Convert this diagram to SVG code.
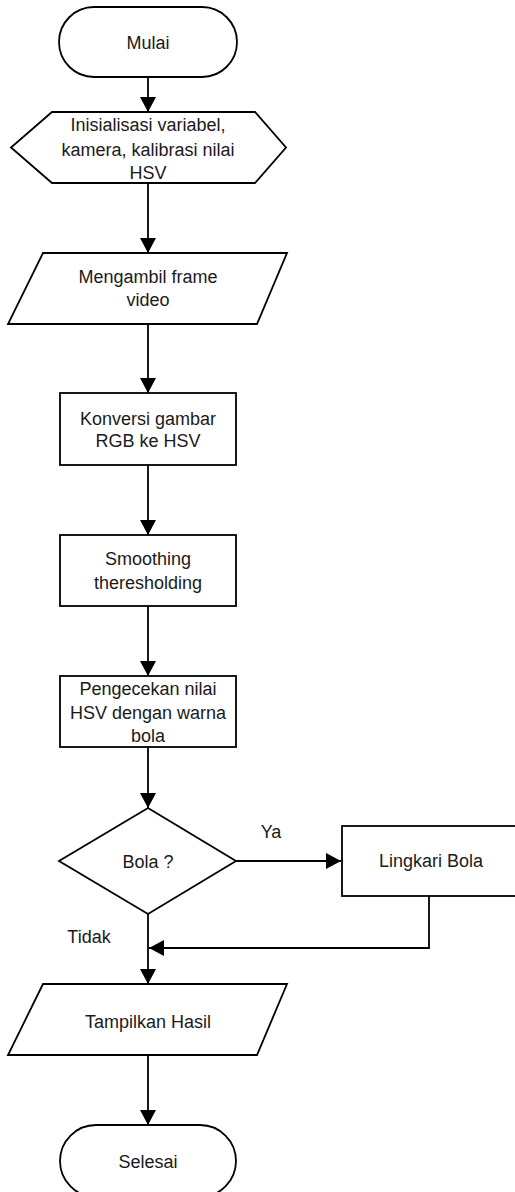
<svg xmlns="http://www.w3.org/2000/svg" width="515" height="1192" viewBox="0 0 515 1192">
<style>
.n{fill:#fff;stroke:#000;stroke-width:1.8}
.t{font-family:"Liberation Sans",Arial,sans-serif;font-size:18px;fill:#1a1a1a;text-anchor:middle;dominant-baseline:central}
.c{fill:none;stroke:#000;stroke-width:1.8}
</style>
<defs>
<marker id="ah" markerUnits="userSpaceOnUse" markerWidth="16" markerHeight="16" viewBox="0 0 16 16" refX="15" refY="8" orient="auto">
<path d="M0,0 L15,8 L0,16 Z" fill="#000"/>
</marker>
</defs>
<rect width="515" height="1192" fill="#fff"/>
<g id="connectors">
<line class="c" x1="148" y1="77" x2="148" y2="112" marker-end="url(#ah)"/>
<line class="c" x1="148" y1="183" x2="148" y2="253" marker-end="url(#ah)"/>
<line class="c" x1="148" y1="324" x2="148" y2="393" marker-end="url(#ah)"/>
<line class="c" x1="148" y1="465" x2="148" y2="535" marker-end="url(#ah)"/>
<line class="c" x1="148" y1="606" x2="148" y2="676" marker-end="url(#ah)"/>
<line class="c" x1="148" y1="747" x2="148" y2="808" marker-end="url(#ah)"/>
<line class="c" x1="236" y1="861" x2="341" y2="861" marker-end="url(#ah)"/>
<polyline class="c" points="429,896 429,948 149,948" marker-end="url(#ah)"/>
<line class="c" x1="148" y1="914" x2="148" y2="984" marker-end="url(#ah)"/>
<line class="c" x1="148" y1="1055" x2="148" y2="1125" marker-end="url(#ah)"/>
<text class="t" x="271" y="832">Ya</text>
<text class="t" x="89" y="937">Tidak</text>
</g>
<g id="mulai">
<rect class="n" x="59" y="7" width="178" height="70" rx="35"/>
<text class="t" x="148" y="43">Mulai</text>
</g>
<g id="inisialisasi">
<polygon class="n" points="52,112 255,112 286,147.5 255,183 52,183 11,147.5"/>
<text class="t" x="148" y="125">Inisialisasi variabel,</text>
<text class="t" x="148" y="150">kamera, kalibrasi nilai</text>
<text class="t" x="148" y="173">HSV</text>
</g>
<g id="frame">
<polygon class="n" points="43,253 287,253 257,324 8,324"/>
<text class="t" x="148" y="277">Mengambil frame</text>
<text class="t" x="148" y="300">video</text>
</g>
<g id="konversi">
<rect class="n" x="60" y="393" width="176" height="72"/>
<text class="t" x="148" y="419">Konversi gambar</text>
<text class="t" x="148" y="441">RGB ke HSV</text>
</g>
<g id="smoothing">
<rect class="n" x="60" y="535" width="176" height="71"/>
<text class="t" x="148" y="559">Smoothing</text>
<text class="t" x="148" y="583">theresholding</text>
</g>
<g id="pengecekan">
<rect class="n" x="60" y="676" width="176" height="71"/>
<text class="t" x="148" y="689">Pengecekan nilai</text>
<text class="t" x="148" y="713">HSV dengan warna</text>
<text class="t" x="148" y="736">bola</text>
</g>
<g id="bola">
<polygon class="n" points="148,808 236,861 148,914 59,861"/>
<text class="t" x="148" y="862">Bola ?</text>
</g>
<g id="lingkari">
<rect class="n" x="342" y="826" width="178" height="70"/>
<text class="t" x="431" y="861">Lingkari Bola</text>
</g>
<g id="tampilkan">
<polygon class="n" points="43,984 287,984 257,1055 8,1055"/>
<text class="t" x="148" y="1022">Tampilkan Hasil</text>
</g>
<g id="selesai">
<rect class="n" x="60" y="1125" width="176" height="72" rx="36"/>
<text class="t" x="148" y="1162">Selesai</text>
</g>
</svg>
